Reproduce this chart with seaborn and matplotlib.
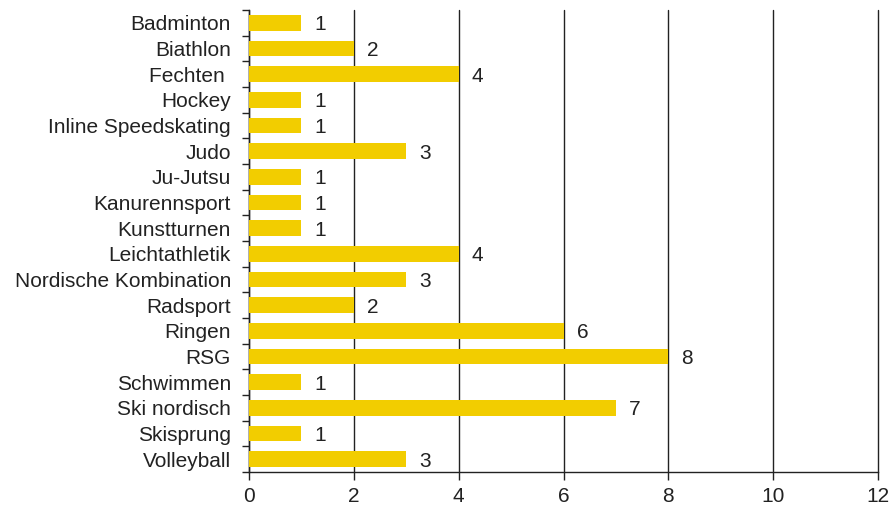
import matplotlib
matplotlib.use("Agg")
import matplotlib.pyplot as plt
import seaborn as sns
import pandas as pd
import numpy as np
from matplotlib.ticker import FixedLocator

categories = ["Badminton", "Biathlon", "Fechten ", "Hockey", "Inline Speedskating", "Judo",
              "Ju-Jutsu", "Kanurennsport", "Kunstturnen", "Leichtathletik",
              "Nordische Kombination", "Radsport", "Ringen", "RSG", "Schwimmen",
              "Ski nordisch", "Skisprung", "Volleyball"]
values = [1, 2, 4, 1, 1, 3, 1, 1, 1, 4, 3, 2, 6, 8, 1, 7, 1, 3]
xticks = [0, 2, 4, 6, 8, 10, 12]

sns.set_style("white")
plt.rcParams['font.family'] = ['Liberation Sans', 'DejaVu Sans']

df = pd.DataFrame({"cat": categories, "val": values})

fig = plt.figure(figsize=(8.91, 5.09), dpi=100)
ax = fig.add_axes([249/891, 1 - 472/509, (878 - 249)/891, (472 - 10)/509])

sns.barplot(data=df, x="val", y="cat", orient="h", color="#F2CD00",
            saturation=1, width=0.6, linewidth=0, ax=ax, zorder=3)

ax.set_xlim(0, 12)
ax.set_ylim(len(categories) - 0.5, -0.5)
ax.set_xticks(xticks)
ax.set_xticklabels([str(t) for t in xticks], fontsize=15, color="#222222")
ax.xaxis.grid(True, color="#222222", linewidth=1.0, zorder=0)
ax.yaxis.grid(False)
for line in ax.get_xgridlines():
    line.set_clip_on(False)
for s in ["top", "right"]:
    ax.spines[s].set_visible(False)
for s in ["left", "bottom"]:
    ax.spines[s].set_color("#222222")
    ax.spines[s].set_linewidth(1.0)

ax.set_xlabel("")
ax.set_ylabel("")
ax.tick_params(axis="y", which="major", left=True, length=0, labelsize=15,
               labelcolor="#222222", pad=13)
ax.yaxis.set_minor_locator(FixedLocator(np.arange(-0.5, len(categories), 1.0)))
ax.tick_params(axis="y", which="minor", left=True, length=5, width=1,
               color="#222222", direction="out")
ax.tick_params(axis="x", which="major", bottom=True, length=6, width=1,
               color="#222222", direction="out", pad=5)

for i, v in enumerate(values):
    ax.text(v + 0.25, i, str(v), va="center_baseline", ha="left", fontsize=15, color="#222222")

fig.savefig("out.png", dpi=100)
